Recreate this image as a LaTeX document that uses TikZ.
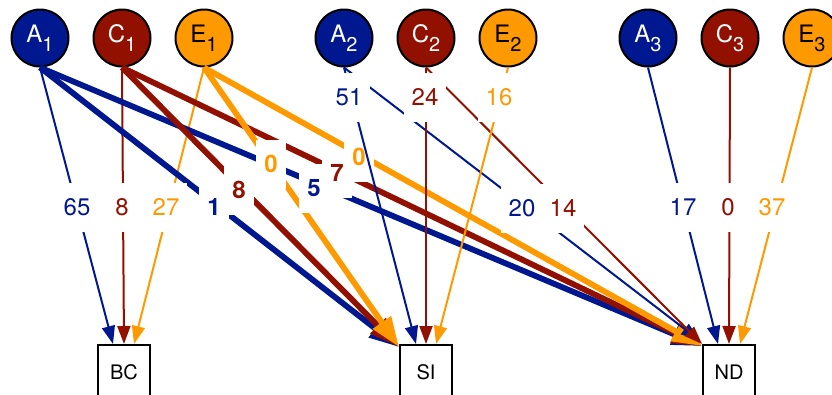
\documentclass[tikz,border=0pt]{standalone}
\usepackage{fontspec}
\setmainfont{TeX Gyre Heros}
\usetikzlibrary{arrows.meta}
\definecolor{cblue}{RGB}{0,24,143}
\definecolor{cred}{RGB}{145,16,0}
\definecolor{corange}{RGB}{255,153,0}
\newcommand\subnum[1]{\raisebox{-9pt}{\fontsize{20}{20}\selectfont #1}}
\begin{document}
\begin{tikzpicture}[x=1pt,y=-1pt,
  circ/.style={circle,draw=black,line width=2pt,minimum size=57pt,inner sep=0pt,font=\fontsize{24}{24}\selectfont},
  box/.style={rectangle,draw=black,line width=2pt,minimum width=52pt,minimum height=54pt,inner sep=0pt,anchor=north,font=\fontsize{20}{20}\selectfont},
  thinedge/.style={line width=2pt,-{Triangle[length=18pt,width=13pt]}},
  thickedge/.style={line width=5.8pt,-{Triangle[length=30pt,width=21pt]}},
  lab/.style={fill=white,inner xsep=8pt,inner ysep=16pt,text height=17pt,text depth=0pt,font=\fontsize{24}{24}\selectfont},
  blab/.style={lab,font=\fontsize{24}{24}\selectfont\bfseries}]
\clip (0,0) rectangle (832,394);
% source nodes
\node[circ,fill=cblue,text=white] (A1) at (40,38) {A\subnum{1}};
\node[circ,fill=cred,text=white] (C1) at (122,38) {C\subnum{1}};
\node[circ,fill=corange,text=black] (E1) at (204,38) {E\subnum{1}};
\node[circ,fill=cblue,text=white] (A2) at (344,38) {A\subnum{2}};
\node[circ,fill=cred,text=white] (C2) at (426,38) {C\subnum{2}};
\node[circ,fill=corange,text=black] (E2) at (508,38) {E\subnum{2}};
\node[circ,fill=cblue,text=white] (A3) at (648,38) {A\subnum{3}};
\node[circ,fill=cred,text=white] (C3) at (730,38) {C\subnum{3}};
\node[circ,fill=corange,text=black] (E3) at (812,38) {E\subnum{3}};
% target nodes
\node[box] (BC) at (124,344) {BC};
\node[box] (SI) at (426,344) {SI};
\node[box] (ND) at (729,344) {ND};
% cluster 1 edges
\draw[thinedge,cblue] (A1.south) -- ([xshift=-11pt]BC.north);
\draw[thinedge,cred] (C1.south) -- (BC.north);
\draw[thinedge,corange] (E1.south) -- ([xshift=10pt]BC.north);
\draw[thickedge,cblue] (A1.south) -- ([yshift=-3pt]SI.north west);
\draw[thickedge,cblue] (A1.south) -- ([yshift=-2pt]ND.north west);
\draw[thickedge,cred] (C1.south) -- ([yshift=-3pt]SI.north west);
\draw[thickedge,cred] (C1.south) -- ([yshift=-2pt]ND.north west);
\draw[thickedge,corange] (E1.south) -- ([yshift=-3pt]SI.north west);
\draw[thickedge,corange] (E1.south) -- ([yshift=-2pt]ND.north west);
% cluster 1 labels
\node[lab,text=cblue] (l65) at (77,207) {65};
\node[lab,text=cred] (l8) at (122,207) {8};
\node[lab,text=corange] (l27) at (166,207) {27};
\node[blab,text=cblue] (l1) at (214,207) {1};
\node[blab,text=cred] (l8b) at (239,190) {8};
\node[blab,text=corange] (l0a) at (271,164) {0};
\node[blab,text=cblue] (l5) at (314,188) {5};
\node[blab,text=cred] (l7) at (337,173) {7};
\node[blab,text=corange] (l0b) at (359,157) {0};
% cluster 2 edges
\draw[thinedge,cblue] (A2.south) -- ([xshift=-3pt,yshift=4pt]ND.north west);
\draw[thinedge,cred] (C2.south) -- (ND.north west);
\draw[thinedge,cblue] (A2.south) -- ([xshift=-10pt]SI.north);
\draw[thinedge,cred] (C2.south) -- (SI.north);
\draw[thinedge,corange] (E2.south) -- ([xshift=10pt]SI.north);
% cluster 2 labels
\node[lab,text=cblue] (l20) at (522,208) {20};
\node[lab,text=cred] (l14) at (563,208) {14};
\node[lab,text=cblue] (l51) at (349,97) {51};
\node[lab,text=cred] (l24) at (425,97) {24};
\node[lab,text=corange] (l16) at (499,97) {16};
% cluster 3 edges
\draw[thinedge,cblue] (A3.south) -- ([xshift=-11pt]ND.north);
\draw[thinedge,cred] (C3.south) -- (ND.north);
\draw[thinedge,corange] (E3.south) -- ([xshift=11pt]ND.north);
\node[lab,text=cblue] (l17) at (683,207) {17};
\node[lab,text=cred] (l0c) at (728,207) {0};
\node[lab,text=corange] (l37) at (772,207) {37};
\end{tikzpicture}
\end{document}
